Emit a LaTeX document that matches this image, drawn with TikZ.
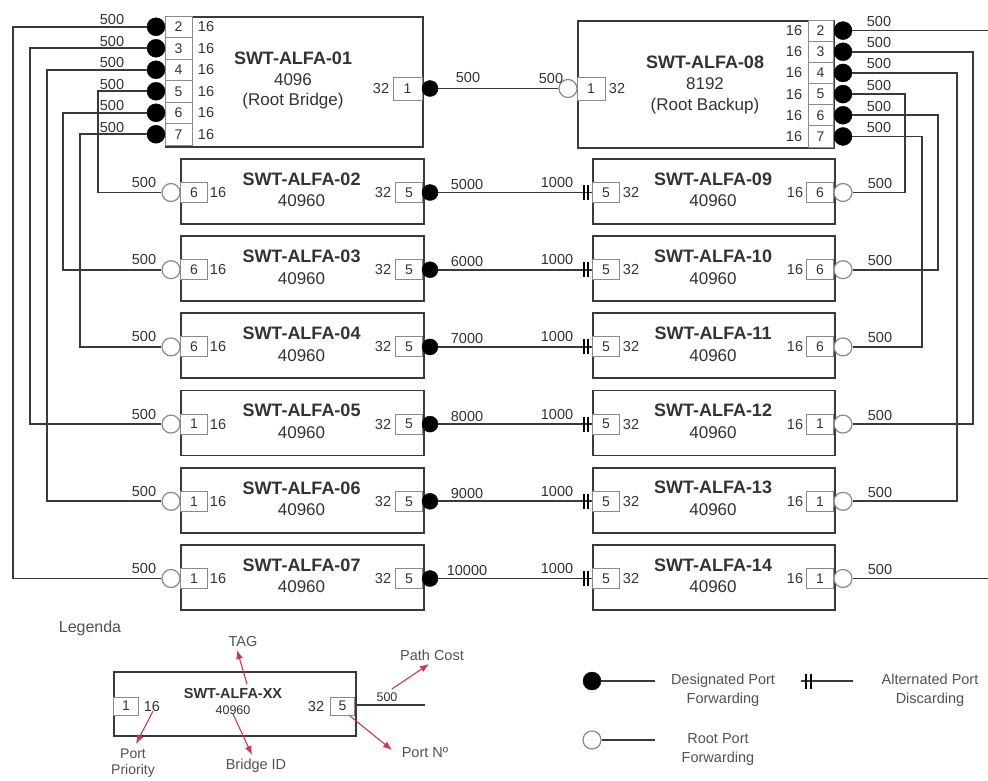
\documentclass[tikz,border=0pt]{standalone}
\usepackage{fontspec}
\setmainfont{Liberation Sans}
\usetikzlibrary{arrows.meta,calc}
\definecolor{ln}{HTML}{3A3A3A}
\definecolor{tx}{HTML}{333333}
\definecolor{pc}{HTML}{8A8A8A}
\definecolor{rd}{HTML}{C8385A}
\tikzset{
  swbox/.style={draw=ln, line width=1.8pt, fill=white, inner sep=0pt, anchor=north west},
  portcell/.style={draw=pc, line width=0.9pt, fill=white, minimum width=27pt, minimum height=20pt, inner sep=0pt, font=\fontsize{14}{14}\selectfont, text=tx},
  wire/.style={draw=ln, line width=1.7pt},
  desig/.style={circle, fill=black, draw=black, minimum size=16pt, inner sep=0pt},
  rootp/.style={circle, fill=white, draw=pc, line width=1.2pt, minimum size=18pt, inner sep=0pt},
  altbar/.style={draw=black, line width=1.6pt},
  ttl/.style={font=\fontsize{18}{18}\selectfont\bfseries, text=tx, inner sep=0pt},
  sub/.style={font=\fontsize{17}{18}\selectfont, text=tx, inner sep=0pt},
  lbl/.style={font=\fontsize{14.5}{14.5}\selectfont, text=tx, inner sep=0pt},
  cost/.style={font=\fontsize{14.5}{14.5}\selectfont, text=tx, inner sep=0pt},
  lgt/.style={font=\fontsize{14.5}{19}\selectfont, text=tx!85, inner sep=0pt},
  redarr/.style={draw=rd, line width=1.1pt, -{Latex[length=9pt,width=7pt]}}
}
\begin{document}
\begin{tikzpicture}[x=1pt,y=-1pt]
\useasboundingbox (0,0) rectangle (988,780);
\clip (0,0) rectangle (988,780);
\fill[white] (0,0) rectangle (988,780);

% ---------- SWT-ALFA-01 ----------
\node[swbox, minimum width=257pt, minimum height=130pt] (b01) at (165,16) {};
\node[ttl] (t01) at (293,58) {SWT-ALFA-01};
\node[sub] (i01) at (293,80) {4096};
\node[sub] (r01) at (293,101) {(Root Bridge)};
\foreach \k [count=\j from 0] in {2,...,7}{
  \pgfmathsetmacro\yp{26.75+21.5*\j}
  \node[portcell, minimum height=21.5pt, minimum width=27pt] (p01\k) at (178.5,\yp) {\k};
  \node[lbl] at (206,\yp) {16};
  \node[desig, minimum size=18pt] (d01\k) at (156,\yp) {};
  \node[cost] at (112,\yp-7) {500};
}
\node[portcell, minimum width=29pt, minimum height=23pt] (p011) at (407.5,88.5) {1};
\node[lbl] at (381,88.5) {32};
\node[desig] (d011) at (430,88.5) {};

% ---------- SWT-ALFA-08 ----------
\node[swbox, minimum width=256pt, minimum height=127pt] (b08) at (577,20) {};
\node[ttl] (t08) at (705,62) {SWT-ALFA-08};
\node[sub] (i08) at (705,84) {8192};
\node[sub] (r08) at (705,106) {(Root Backup)};
\foreach \k [count=\j from 0] in {2,...,7}{
  \pgfmathsetmacro\yp{30.6+21.17*\j}
  \node[portcell, minimum height=21.17pt, minimum width=25pt] (p08\k) at (820.5,\yp) {\k};
  \node[lbl] at (794,\yp) {16};
  \node[desig, minimum size=18pt] (d08\k) at (843,\yp) {};
  \node[cost] at (879,\yp-9) {500};
}
\node[portcell, minimum width=28pt, minimum height=23pt] (p081) at (591,88.5) {1};
\node[lbl] at (617,88.5) {32};
\node[rootp] (c081) at (568,88.5) {};
\draw[wire] (d011.east) -- (c081.west);
\node[cost] at (468,78) {500};
\node[cost] at (551,79) {500};

% ---------- rows ----------
\foreach \i/\lname/\lport/\rname/\rport/\cst in {0/02/6/09/6/5000, 1/03/6/10/6/6000, 2/04/6/11/6/7000, 3/05/1/12/1/8000, 4/06/1/13/1/9000, 5/07/1/14/1/10000}{
  \pgfmathsetmacro\yt{158+77.2*\i}
  \pgfmathsetmacro\yp{\yt+34.5}
  % left switch
  \node[swbox, minimum width=243pt, minimum height=65pt] (b\lname) at (180,\yt) {};
  \node[ttl] at (301.5,\yt+21) {SWT-ALFA-\lname};
  \node[sub] at (301.5,\yt+43) {40960};
  \node[portcell, anchor=west] (q\lname) at (180,\yp) {\lport};
  \node[lbl] at (218,\yp) {16};
  \node[portcell, anchor=east] (r\lname) at (423,\yp) {5};
  \node[lbl] at (383,\yp) {32};
  \node[rootp] (c\lname) at (171,\yp) {};
  \node[desig] (e\lname) at (430,\yp) {};
  \node[cost] at (144,\yp-10) {500};
  % right switch
  \node[swbox, minimum width=242pt, minimum height=65pt] (b\rname) at (592,\yt) {};
  \node[ttl] at (713,\yt+21) {SWT-ALFA-\rname};
  \node[sub] at (713,\yt+43) {40960};
  \node[portcell, anchor=west] (q\rname) at (592,\yp) {5};
  \node[lbl] at (631,\yp) {32};
  \node[portcell, anchor=east] (r\rname) at (834,\yp) {\rport};
  \node[lbl] at (795,\yp) {16};
  \node[rootp] (c\rname) at (843,\yp) {};
  \coordinate (a\rname) at (592,\yp);
  \draw[wire] (e\lname.east) -- (a\rname);
  \draw[altbar] ($(a\rname)+(-8,-7.5)$) -- ++(0,15);
  \draw[altbar] ($(a\rname)+(-4,-7.5)$) -- ++(0,15);
  \node[cost] at (467,\yp-8) {\cst};
  \node[cost] at (557,\yp-10) {1000};
  \node[cost] at (880,\yp-9) {500};
}

% ---------- left wiring ----------
\foreach \k/\xx/\tgt in {2/13/07, 3/30/05, 4/47/06, 5/98/02, 6/63/03, 7/80/04}{
  \coordinate (xl\k) at (\xx,0);
  \draw[wire] (d01\k.west) -- (d01\k.west -| xl\k) -- (xl\k |- c\tgt.west) -- (c\tgt.west);
}
% ---------- right wiring ----------
\foreach \k/\xx/\tgt in {2/996/14, 3/973/12, 4/957/13, 5/905/09, 6/938/10, 7/922/11}{
  \coordinate (xr\k) at (\xx,0);
  \draw[wire] (d08\k.east) -- (d08\k.east -| xr\k) -- (xr\k |- c\tgt.east) -- (c\tgt.east);
}

% ---------- legend ----------
\node[font=\fontsize{16}{16}\selectfont, text=tx!85, inner sep=0pt] (leg) at (90,628) {Legenda};
\node[swbox, minimum width=242pt, minimum height=64pt] (bxx) at (113,671) {};
\node[ttl, font=\fontsize{14.5}{15}\selectfont\bfseries] (txx) at (233,693) {SWT-ALFA-XX};
\node[sub, font=\fontsize{12.5}{13}\selectfont] (ixx) at (233,710) {40960};
\node[portcell, minimum width=25pt, minimum height=18pt, anchor=west] (qxx) at (113,706) {1};
\node[lbl] (pxx) at (152,706) {16};
\node[lbl] (nxx) at (316,706) {32};
\node[portcell, minimum width=24pt, minimum height=18pt, anchor=east] (rxx) at (355,706) {5};
\coordinate (exx) at (425,705);
\draw[wire] (rxx.east |- exx) -- (exx);
\node[cost, font=\fontsize{12.5}{13}\selectfont] (cxx) at (387,697) {500};

\node[lgt] (tag) at (243,641) {TAG};
\node[lgt] (pcost) at (432,655) {Path Cost};
\node[lgt, font=\fontsize{14}{16}\selectfont, align=center] (pprio) at (133,763) {Port\\Priority};
\node[lgt] (bid) at (256,766) {Bridge ID};
\node[lgt] (pno) at (425,752) {Port Nº};

\coordinate (tagT) at (247,684);   \coordinate (tagH) at (237,650);
\coordinate (pcT) at (392,689);    \coordinate (pcH) at (429,664);
\coordinate (ppT) at (153,711);    \coordinate (ppH) at (136,744);
\coordinate (biT) at (233,714);    \coordinate (biH) at (252,755);
\coordinate (pnT) at (350,716);    \coordinate (pnH) at (392,750);
\draw[redarr] (tagT) -- (tagH);
\draw[redarr] (pcT) -- (pcH);
\draw[redarr] (ppT) -- (ppH);
\draw[redarr] (biT) -- (biH);
\draw[redarr] (pnT) -- (pnH);

\node[desig, minimum size=18pt] (ld) at (592,681) {};
\coordinate (ldE) at (655,681);
\draw[wire] (ld.east) -- (ldE);
\node[lgt, align=center] (ldt) at (723,690.5) {Designated Port\\Forwarding};

\coordinate (la0) at (801,681);
\coordinate (la1) at (853,681);
\draw[wire] (la0) -- (la1);
\draw[altbar] ($(la0)+(5,-7.5)$) -- ++(0,15);
\draw[altbar] ($(la0)+(10,-7.5)$) -- ++(0,15);
\node[lgt, align=center] (lat) at (930,690.5) {Alternated Port\\Discarding};

\node[rootp] (lr) at (592,740) {};
\coordinate (lrE) at (655,740);
\draw[wire] (lr.east) -- (lrE);
\node[lgt, align=center] (lrt) at (718,749.5) {Root Port\\Forwarding};
\end{tikzpicture}
\end{document}
